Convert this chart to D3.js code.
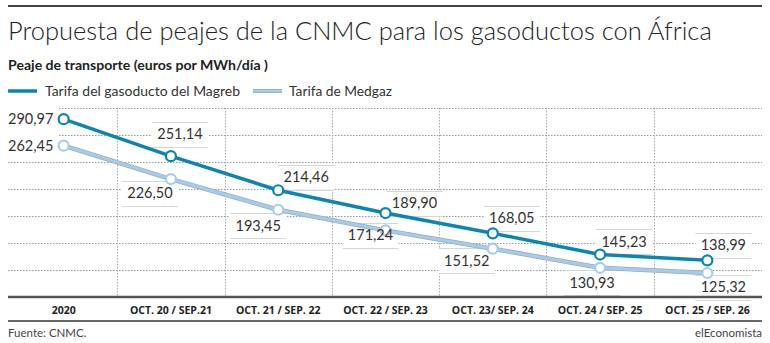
<!DOCTYPE html>
<html><head><meta charset="utf-8">
<script src="https://cdn.jsdelivr.net/npm/d3@7"></script>
<style>
html,body{margin:0;padding:0;background:#fff;}
svg{display:block;}
</style></head>
<body>
<svg id="c" width="770" height="343"></svg>
<script>
const categories = ["2020","OCT. 20 / SEP.21","OCT. 21 / SEP. 22","OCT. 22 / SEP. 23","OCT. 23/ SEP. 24","OCT. 24 / SEP. 25","OCT. 25 / SEP. 26"];
const magreb = [290.97, 251.14, 214.46, 189.90, 168.05, 145.23, 138.99];
const medgaz = [262.45, 226.50, 193.45, 171.24, 151.52, 130.93, 125.32];
const seriesNames = ["Tarifa del gasoducto del Magreb", "Tarifa de Medgaz"];
const titleText = "Propuesta de peajes de la CNMC para los gasoductos con África";
const subtitleText = "Peaje de transporte (euros por MWh/día )";
const sourceText = "Fuente: CNMC.";
const brandText = "elEconomista";

// label placement (offset from point), kept apart from data
const magrebLabelOff = [[-33,0,0],[9,-22,1],[28,-13,1],[29,-10,1],[19,-15,1],[24,-13,1],[16,-15,1]];
const medgazLabelOff = [[-33,0,0],[-21,14,1],[-20,16,1],[-15,5,1],[-26,12,1],[-8,15,1],[16,14,1]];

const svg = d3.select("#c");
const L = 8, R = 762;
const cMag = "#0d85b3", cMed = "#aacbe7", cMedEdge = "#8eaec6";
const font = "Lato, 'Open Sans', sans-serif";

function fit(sel, target){
  const n = sel.node(); const w = n.getComputedTextLength();
  const fs = parseFloat(sel.attr("font-size"));
  sel.attr("font-size", (fs*target/w).toFixed(2));
}

// top rule
svg.append("line").attr("x1",L).attr("x2",R).attr("y1",6).attr("y2",6).attr("stroke","#444").attr("stroke-width",2);

const t = svg.append("text").attr("x",L).attr("y",40).attr("font-family",font).attr("font-weight",300)
  .attr("font-size",26).attr("fill","#222").text(titleText);
fit(t, 704);
const st = svg.append("text").attr("x",L).attr("y",70).attr("font-family",font).attr("font-weight",700)
  .attr("font-size",14).attr("fill","#222").text(subtitleText);
fit(st, 260);

// legend
const lg1x = L;
svg.append("line").attr("x1",lg1x).attr("x2",lg1x+29).attr("y1",91).attr("y2",91).attr("stroke",cMag).attr("stroke-width",3.5);
const l1 = svg.append("text").attr("x",45).attr("y",96).attr("font-family",font).attr("font-size",14).attr("fill","#333").text(seriesNames[0]);
fit(l1, 195);
svg.append("line").attr("x1",253).attr("x2",282).attr("y1",91).attr("y2",91).attr("stroke",cMedEdge).attr("stroke-width",4);
svg.append("line").attr("x1",253).attr("x2",282).attr("y1",91).attr("y2",91).attr("stroke",cMed).attr("stroke-width",2.5);
const l2 = svg.append("text").attr("x",289).attr("y",96).attr("font-family",font).attr("font-size",14).attr("fill","#333").text(seriesNames[1]);
fit(l2, 103);

// scales
const x = d3.scaleBand().domain(categories).range([10, 761]).padding(0);
const y = d3.scaleLinear().domain([99.5, 303]).range([297, 108]);
const cx = d => x(d) + x.bandwidth()/2;

// horizontal grid: 7 equal divisions
const yd = y.domain();
const gridVals = d3.range(1,8).map(i => yd[0] + i*(yd[1]-yd[0])/7);
svg.append("g").selectAll("line").data(gridVals).join("line")
  .attr("x1",L).attr("x2",R).attr("y1",d=>Math.round(y(d))+0.5).attr("y2",d=>Math.round(y(d))+0.5)
  .attr("stroke","#999").attr("stroke-width",1).attr("stroke-dasharray","1.5,1.5");
// vertical grid at band boundaries
svg.append("g").selectAll("line").data(categories.slice(1)).join("line")
  .attr("x1",d=>Math.round(x(d))+0.5).attr("x2",d=>Math.round(x(d))+0.5).attr("y1",108).attr("y2",297)
  .attr("stroke","#aaa").attr("stroke-width",1).attr("stroke-dasharray","1.5,1.5");

// label boxes
function labelData(vals, offs){
  return vals.map((v,i)=>({v, cx: cx(categories[i]) + offs[i][0], cy: y(v) + offs[i][1], box: offs[i][2], left: offs[i][0] < -30}));
}
const labs = labelData(magreb, magrebLabelOff).concat(labelData(medgaz, medgazLabelOff));
const bw = 56, bh = 25;
const gb = svg.append("g");
labs.forEach(d=>{
  gb.append("rect").attr("x",d.cx-bw/2).attr("y",d.cy-bh/2).attr("width",bw).attr("height",bh).attr("fill","#fff");
  if(d.box){
    [d.cy-bh/2, d.cy+bh/2].forEach(yy=>gb.append("line").attr("x1",d.cx-bw/2).attr("x2",d.cx+bw/2)
      .attr("y1",Math.round(yy)+0.5).attr("y2",Math.round(yy)+0.5).attr("stroke","#d6d6d6").attr("stroke-width",1));
  }
});

// axis lines
svg.append("line").attr("x1",L).attr("x2",R).attr("y1",297).attr("y2",297).attr("stroke","#555").attr("stroke-width",2.5);
svg.append("line").attr("x1",L).attr("x2",R).attr("y1",321).attr("y2",321).attr("stroke","#333").attr("stroke-width",1.5);

// x axis labels via d3 axis
const ax = svg.append("g").attr("transform","translate(0,298)")
  .call(d3.axisBottom(x).tickSize(0).tickPadding(9));
ax.select(".domain").remove();
ax.selectAll("text").attr("font-family","'Liberation Sans Narrow', 'Open Sans', sans-serif").attr("font-weight",700)
  .attr("font-size",10.5).attr("fill","#222");

// lines
const line = d3.line().x((d,i)=>cx(categories[i])).y(d=>y(d));
svg.append("path").datum(medgaz).attr("d",line).attr("fill","none").attr("stroke",cMedEdge).attr("stroke-width",4.5);
svg.append("path").datum(medgaz).attr("d",line).attr("fill","none").attr("stroke",cMed).attr("stroke-width",3);
svg.append("path").datum(magreb).attr("d",line).attr("fill","none").attr("stroke",cMag).attr("stroke-width",3.5);

svg.append("g").selectAll("circle").data(medgaz).join("circle")
  .attr("cx",(d,i)=>cx(categories[i])).attr("cy",d=>y(d)).attr("r",5)
  .attr("fill","#fff").attr("stroke",cMed).attr("stroke-width",2.2);
svg.append("g").selectAll("circle").data(magreb).join("circle")
  .attr("cx",(d,i)=>cx(categories[i])).attr("cy",d=>y(d)).attr("r",5)
  .attr("fill","#fff").attr("stroke",cMag).attr("stroke-width",2.2);

// value labels
const fmt = v => d3.format(".2f")(v).replace(".", ",");
svg.append("g").selectAll("text").data(labs).join("text")
  .attr("x",d=>d.cx).attr("y",d=>d.cy+5).attr("text-anchor","middle")
  .attr("font-family",font).attr("font-size",14.5).attr("fill","#333").text(d=>fmt(d.v));

// footer
svg.append("text").attr("x",L).attr("y",337).attr("font-family",font).attr("font-size",11.5).attr("fill","#444").text(sourceText);
svg.append("text").attr("x",R).attr("y",337).attr("text-anchor","end").attr("font-family",font).attr("font-size",11.5).attr("fill","#444").text(brandText);
</script>
</body></html>
